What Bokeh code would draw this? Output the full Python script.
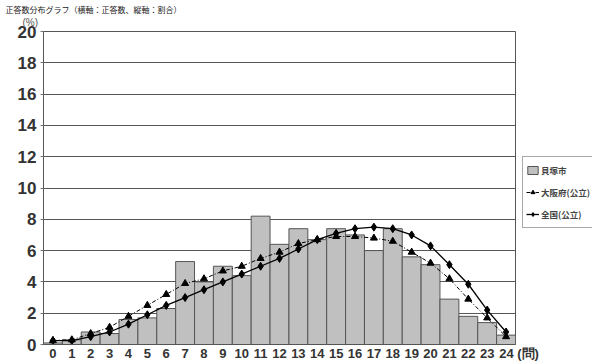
from bokeh.plotting import figure
from bokeh.models import (Range1d, FixedTicker, Legend, LegendItem, Title,
                          ColumnDataSource)
from bokeh.embed import file_html
from bokeh.resources import INLINE

# ---- data ----
scores = list(range(25))
score_labels = [str(s) for s in scores]
x_unit = "(問)"
kaizuka = [0.1, 0.3, 0.8, 0.7, 1.6, 1.7, 2.3, 5.3, 4.0, 5.0, 4.4, 8.2, 6.4, 7.4,
           6.7, 7.4, 7.0, 6.0, 7.4, 5.6, 5.1, 2.9, 1.8, 1.4, 0.6]
osaka = [0.25, 0.3, 0.7, 1.1, 1.8, 2.5, 3.2, 3.9, 4.2, 4.7, 5.0, 5.5, 5.9, 6.45,
         6.7, 6.9, 6.9, 6.8, 6.6, 5.9, 5.2, 4.2, 2.9, 1.7, 0.5]
zenkoku = [0.25, 0.25, 0.5, 0.8, 1.3, 1.9, 2.5, 3.0, 3.5, 4.0, 4.5, 5.0, 5.5, 6.1,
           6.7, 7.1, 7.4, 7.5, 7.4, 7.0, 6.3, 5.1, 3.85, 2.2, 0.8]
y_ticks = [0, 2, 4, 6, 8, 10, 12, 14, 16, 18, 20]
series_names = ["貝塚市", "大阪府(公立)", "全国(公立)"]
title_text = "正答数分布グラフ（横軸：正答数、縦軸：割合）"
y_unit = "(%)"

src = ColumnDataSource(dict(x=scores, k=kaizuka, o=osaka, z=zenkoku))

p = figure(frame_width=472, frame_height=313, output_backend="svg",
           toolbar_location=None,
           x_range=Range1d(-0.5, 24.5), y_range=Range1d(0, 20),
           min_border_left=43, min_border_right=77, min_border_top=31,
           min_border_bottom=0, background_fill_color="white",
           border_fill_color="white")
p.outline_line_color = "#555555"
p.outline_line_width = 1

p.xgrid.visible = False
p.ygrid.ticker = FixedTicker(ticks=y_ticks)
p.ygrid.grid_line_color = "#555555"
p.ygrid.grid_line_width = 1

# axes
p.yaxis.ticker = FixedTicker(ticks=y_ticks)
p.yaxis.axis_line_color = "#555555"
p.yaxis.major_tick_line_color = "#777777"
p.yaxis.major_tick_in = 0
p.yaxis.major_tick_out = 3
p.yaxis.minor_tick_line_color = None
p.yaxis.major_label_standoff = 4
p.yaxis.major_label_text_font = "Liberation Sans"
p.yaxis.major_label_text_font_style = "bold"
p.yaxis.major_label_text_font_size = "17px"
p.yaxis.major_label_text_color = "#333333"

x_over = {s: l for s, l in zip(scores, score_labels)}
x_over[scores[-1]] = "\u3000\u3000" + score_labels[-1] + " " + x_unit
p.xaxis.ticker = FixedTicker(ticks=scores)
p.xaxis.major_label_overrides = x_over
p.xaxis.axis_line_color = "#555555"
p.xaxis.major_tick_line_color = None
p.xaxis.major_tick_in = 0
p.xaxis.major_tick_out = 0
p.xaxis.minor_tick_line_color = None
p.xaxis.minor_tick_in = 0
p.xaxis.minor_tick_out = 0
p.xaxis.major_label_standoff = 1
p.xaxis.major_label_text_font = "Liberation Sans"
p.xaxis.major_label_text_font_style = "bold"
p.xaxis.major_label_text_font_size = "13px"
p.xaxis.major_label_text_color = "#333333"

# bars
bars = p.vbar(x="x", top="k", width=1.0, source=src, fill_color="#c0c0c0",
              line_color="#555555", line_width=1)

# Osaka
ol = p.line("x", "o", source=src, line_color="black", line_width=1,
            line_dash="4 2 1 2")
om = p.scatter("x", "o", source=src, marker="triangle", size=7,
               fill_color="black", line_color="black")
# National
zl = p.line("x", "z", source=src, line_color="black", line_width=1.3)
zm = p.scatter("x", "z", source=src, marker="diamond", size=8,
               fill_color="black", line_color="black")

legend = Legend(items=[LegendItem(label=series_names[0], renderers=[bars]),
                       LegendItem(label=series_names[1], renderers=[ol, om]),
                       LegendItem(label=series_names[2], renderers=[zl, zm])],
                location=(7, 116))
legend.border_line_color = "#555555"
legend.border_line_width = 1
legend.background_fill_alpha = 1
legend.label_text_font = "Noto Sans CJK JP"
legend.label_text_font_size = "8.5px"
legend.label_text_font_style = "bold"
legend.label_standoff = 2
legend.label_height = 20
legend.glyph_width = 13
legend.glyph_height = 10
legend.spacing = 2
legend.padding = 3
legend.margin = 0
p.add_layout(legend, "right")

# texts above the plot
p.title.text = title_text
p.title.align = "left"
p.title.offset = -38
p.title.text_font = "Noto Sans CJK JP"
p.title.text_font_size = "8px"
p.title.text_font_style = "normal"
p.title.text_color = "#222222"
p.title.text_line_height = 0.9
p.title.standoff = 0

p.add_layout(Title(text=y_unit, align="left", offset=-21, standoff=4,
                   vertical_align="top",
                   text_font="Liberation Sans", text_font_size="10px",
                   text_font_style="normal", text_color="#555555"), "above")

open("out.html", "w").write(file_html(p, INLINE))
